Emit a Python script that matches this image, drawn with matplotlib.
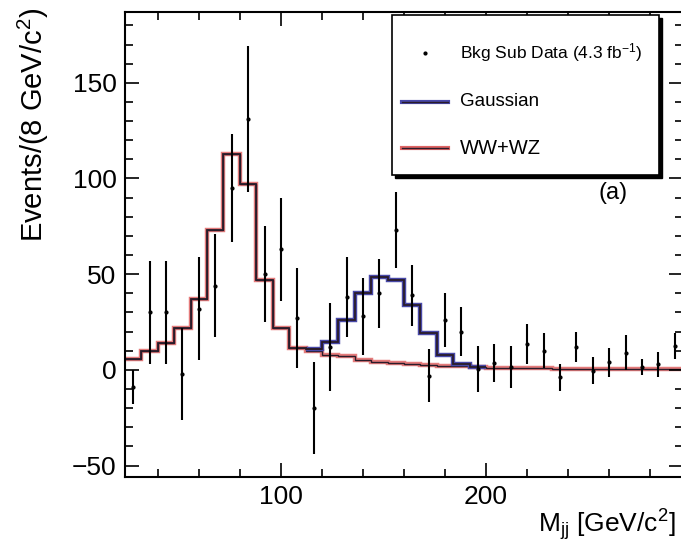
import numpy as np
import matplotlib.pyplot as plt
from matplotlib.patches import Rectangle
from matplotlib.lines import Line2D
from matplotlib.ticker import MultipleLocator

plt.rcParams['font.family'] = ['Liberation Sans', 'DejaVu Sans']
plt.rcParams['mathtext.fontset'] = 'custom'
plt.rcParams['mathtext.rm'] = 'Liberation Sans'
plt.rcParams['mathtext.it'] = 'Liberation Sans:italic'

# 8 GeV bins from 24 to 296 GeV/c^2
bin_edges = np.arange(24, 297, 8)
bin_centers = (bin_edges[:-1] + bin_edges[1:]) / 2

# background-subtracted data and errors
data_vals = [-9, 30, 30, -2, 32, 44, 95, 131, 50, 63, 27, -20, 12, 38, 28, 40, 73,
             39, -3, 26, 20, 0.5, 3.5, 1.5, 13.5, 10, -4, 12, -0.5, 4, 9, 1.5, 3, 12.5]
data_errs = [9, 27, 27, 24, 27, 27, 28, 38, 25, 27, 26, 24, 23, 21, 20, 18, 20,
             16, 14, 14, 13, 12, 10, 11, 10.5, 9, 7, 8, 7, 7.5, 9, 4, 6.5, 7]

# WW+WZ template
wwwz_vals = [5.5, 10, 14, 22, 37, 73, 113, 97, 47, 22, 11.5, 10, 7.5, 7, 5, 4, 3.5,
             3, 2.5, 2, 2, 1.5, 1.2, 1.0, 0.9, 0.8, 0.7, 0.6, 0.5, 0.5, 0.4, 0.4, 0.3, 0.3]

# Gaussian component on top of WW+WZ
gauss_vals = [0, 0, 0, 0, 0, 0, 0, 0, 0, 0, 0, 1, 7, 19, 35, 44.5, 43.5,
              31, 17, 6, 1, 0, 0, 0, 0, 0, 0, 0, 0, 0, 0, 0, 0, 0]

red = '#e06464'
blue = '#4848a8'
dark = '#2a1c2a'

fig = plt.figure(figsize=(6.81, 5.42), dpi=100)
ax = fig.add_axes([125 / 681, 65 / 542, 558 / 681, 465 / 542])

wwwz = np.array(wwwz_vals)
gauss = np.array(gauss_vals)
total = wwwz + gauss

# WW+WZ
ax.stairs(wwwz, bin_edges, baseline=None, color=red, lw=3.2, alpha=0.85)
ax.stairs(wwwz, bin_edges, baseline=None, color=dark, lw=1.0)

# Gaussian + WW+WZ, only where the gaussian is present
g = np.nonzero(gauss > 0)[0]
lo, hi = g[0], g[-1] + 2
ax.stairs(total[lo:hi], bin_edges[lo:hi + 1], baseline=None, color=blue, lw=3.2)
ax.stairs(total[:lo + 1], bin_edges[:lo + 2], baseline=None, color=dark, lw=1.3)
ax.stairs(total[lo:hi], bin_edges[lo:hi + 1], baseline=None, color=dark, lw=1.3)

ax.errorbar(bin_centers, data_vals, yerr=data_errs, fmt='.', color='black',
            ms=4, elinewidth=1.5, capsize=0, zorder=5)

ax.set_xlim(24, 296)
ax.set_ylim(-56, 187)
ax.xaxis.set_major_locator(MultipleLocator(100))
ax.xaxis.set_minor_locator(MultipleLocator(20))
ax.yaxis.set_major_locator(MultipleLocator(50))
ax.yaxis.set_minor_locator(MultipleLocator(10))
ax.tick_params(which='both', direction='in', top=True, right=True, width=1.2)
ax.tick_params(which='major', length=10, labelsize=19, pad=6)
ax.tick_params(which='minor', length=5.5)
for s in ax.spines.values():
    s.set_linewidth(1.5)

fig.text(33 / 681, 1 - 8 / 542, 'Events/(8 GeV/c$^2$)', rotation=90,
         ha='center', va='top', fontsize=21)
fig.text(676 / 681, 1 - 525 / 542, 'M$_{\\mathrm{jj}}$ [GeV/c$^2$]', ha='right',
         va='center', fontsize=19)

# legend box with shadow, ROOT-like
def px(x, y):
    return (x - 125) / 558, (477 - y) / 465

x0, y0 = px(392, 175)
x1, y1 = px(659, 15)
sx, sy = 3 / 558, 3 / 465
ax.add_patch(Rectangle((x0 + sx, y0 - sy), x1 - x0, y1 - y0, transform=ax.transAxes,
                       facecolor='black', edgecolor='black', zorder=6))
ax.add_patch(Rectangle((x0, y0), x1 - x0, y1 - y0, transform=ax.transAxes,
                       facecolor='white', edgecolor='black', lw=1.2, zorder=7))

mx, my = px(425, 53)
ax.plot([mx], [my], '.', color='black', ms=4, transform=ax.transAxes, zorder=8)
tx, _ = px(460, 0)
ax.text(tx, my, 'Bkg Sub Data (4.3 fb$^{-1}$)', transform=ax.transAxes,
        fontsize=12.5, va='center', zorder=8)

lx0, ly = px(402, 102)
lx1, _ = px(448, 102)
ax.add_line(Line2D([lx0, lx1], [ly, ly], color=blue, lw=3, transform=ax.transAxes, zorder=8))
ax.add_line(Line2D([lx0, lx1], [ly, ly], color=dark, lw=1, transform=ax.transAxes, zorder=8))
ax.text(tx, ly, 'Gaussian', transform=ax.transAxes, fontsize=13.5, va='center', zorder=8)

_, ly = px(402, 148)
ax.add_line(Line2D([lx0, lx1], [ly, ly], color=red, lw=3, transform=ax.transAxes, zorder=8))
ax.add_line(Line2D([lx0, lx1], [ly, ly], color=dark, lw=1, transform=ax.transAxes, zorder=8))
ax.text(tx, ly, 'WW+WZ', transform=ax.transAxes, fontsize=14.5, va='center', zorder=8)

ax_, ay_ = px(613, 193)
ax.text(ax_, ay_, '(a)', transform=ax.transAxes, fontsize=17, ha='center', va='center')

fig.savefig('out.png', dpi=100)
